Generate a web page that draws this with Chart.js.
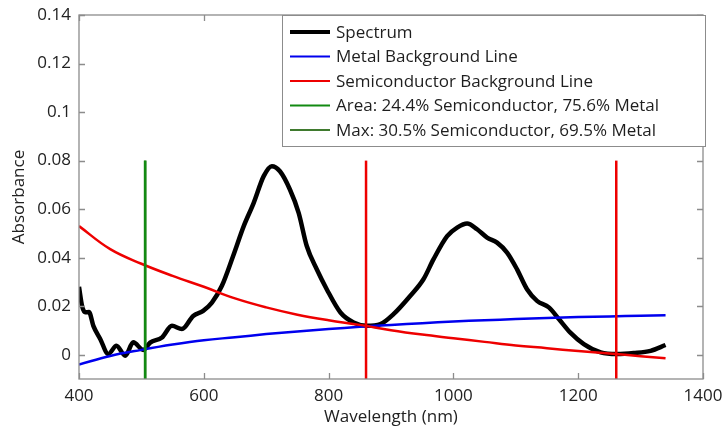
<!DOCTYPE html>
<html>
<head>
<meta charset="utf-8">
<script src="https://cdn.jsdelivr.net/npm/chart.js@4.4.0/dist/chart.umd.min.js"></script>
<style>
  body { margin: 0; background: #fff; }
</style>
</head>
<body>
<canvas id="absChart" width="725" height="427"></canvas>
<script>
// ---- data ----
const specWl = [400, 405, 410, 416, 423, 434, 447, 460, 474, 487, 503, 514, 533, 549, 565, 583, 599, 613, 629, 647,
  664, 680, 696, 709, 722, 738, 752, 765, 781, 797, 819, 840, 861, 883, 904, 931, 952, 968, 990, 1006,
  1022, 1038, 1054, 1070, 1086, 1102, 1118, 1134, 1153, 1169, 1187, 1209, 1236, 1262, 1289, 1316, 1340];
const specAbs = [0.028, 0.020, 0.0175, 0.0176, 0.0119, 0.0065, 0.0003, 0.0037, -0.0004, 0.0051, 0.002, 0.005, 0.0071, 0.0119, 0.0106, 0.016, 0.0181, 0.0215, 0.0284, 0.0407,
  0.053, 0.0626, 0.0736, 0.0777, 0.0756, 0.0681, 0.0585, 0.0448, 0.0352, 0.027, 0.0174, 0.0133, 0.0119, 0.0126, 0.0167, 0.0243, 0.0311, 0.0393, 0.0489, 0.0524,
  0.0541, 0.0517, 0.0483, 0.0462, 0.0421, 0.0352, 0.027, 0.0222, 0.0195, 0.0147, 0.0092, 0.0044, 0.001, 0.0003, 0.0007, 0.0016, 0.004];

const bgWl = [400, 450, 500, 550, 600, 650, 700, 750, 800, 850, 900, 950, 1000, 1050, 1100, 1150, 1200, 1250, 1300, 1340];
const metalAbs = [-0.004, -0.0005, 0.002, 0.0042, 0.006, 0.0072, 0.0085, 0.0096, 0.0106, 0.0115, 0.0123, 0.013, 0.0137, 0.0142, 0.0147, 0.0151, 0.0155, 0.0158, 0.0161, 0.0163];
const semiAbs = [0.053, 0.0435, 0.0375, 0.0325, 0.028, 0.0232, 0.0195, 0.0165, 0.0142, 0.0123, 0.0101, 0.0083, 0.0068, 0.0053, 0.0038, 0.0027, 0.0015, 0.0005, -0.0006, -0.0014];

const areaX = 506;       // green marker
const maxX = 506;        // dark green marker (same spot)
const redMarkX = [860, 1261];
const markerTop = 0.08;

const xTicks = [400, 600, 800, 1000, 1200, 1400];
const yTicks = [0, 0.02, 0.04, 0.06, 0.08, 0.1, 0.12, 0.14];

const labels = ['Spectrum', 'Metal Background Line', 'Semiconductor Background Line',
  'Area: 24.4% Semiconductor, 75.6% Metal', 'Max: 30.5% Semiconductor, 69.5% Metal'];

const FONT = "'Open Sans', 'Noto Sans', sans-serif";

function pts(xs, ys) {
  return xs.map((x, i) => ({x: x, y: ys[i]}));
}
function vline(x) {
  return [{x: x, y: -0.01}, {x: x, y: markerTop}];
}

// box + inward tick marks like matlab
const insideTicks = {
  id: 'insideTicks',
  afterDatasetsDraw(chart) {
    const {ctx, chartArea: a, scales: {x, y}} = chart;
    ctx.save();
    ctx.strokeStyle = '#8c8c8c';
    ctx.lineWidth = 1.3;
    ctx.strokeRect(a.left, a.top, a.right - a.left, a.bottom - a.top);
    ctx.beginPath();
    x.ticks.forEach(t => {
      const px = Math.round(x.getPixelForValue(t.value)) + 0.5;
      ctx.moveTo(px, a.bottom); ctx.lineTo(px, a.bottom - 6);
      ctx.moveTo(px, a.top); ctx.lineTo(px, a.top + 6);
    });
    y.ticks.forEach(t => {
      const py = Math.round(y.getPixelForValue(t.value)) + 0.5;
      ctx.moveTo(a.left, py); ctx.lineTo(a.left + 6, py);
      ctx.moveTo(a.right, py); ctx.lineTo(a.right - 6, py);
    });
    ctx.stroke();
    ctx.restore();
  }
};

// legend box in the top right corner
const boxLegend = {
  id: 'boxLegend',
  afterDraw(chart) {
    const {ctx, chartArea: a} = chart;
    const items = chart.data.datasets.filter(d => d.label);
    const left = 282, top = a.top, right = a.right + 2, bottom = 146;
    ctx.save();
    ctx.fillStyle = '#fff';
    ctx.fillRect(left, top, right - left, bottom - top);
    ctx.strokeStyle = '#8c8c8c';
    ctx.lineWidth = 1;
    ctx.strokeRect(left + 0.5, top + 0.5, right - left, bottom - top);
    ctx.font = '17px ' + FONT;
    ctx.textBaseline = 'middle';
    ctx.textAlign = 'left';
    items.forEach((d, i) => {
      const yy = 32 + i * 24.5;
      ctx.strokeStyle = d.borderColor;
      ctx.lineWidth = d.legendWidth;
      ctx.beginPath();
      ctx.moveTo(290, yy); ctx.lineTo(330, yy);
      ctx.stroke();
      ctx.fillStyle = '#1e1e1e';
      ctx.fillText(d.label, 336, yy + 1);
    });
    ctx.restore();
  }
};

const ctx = document.getElementById('absChart').getContext('2d');
const absChart = new Chart(ctx, {
  type: 'line',
  data: {
    datasets: [
      {label: labels[0], data: pts(specWl, specAbs), borderColor: '#000', borderWidth: 4.5, legendWidth: 4,
        cubicInterpolationMode: 'monotone', order: 5},
      {label: labels[1], data: pts(bgWl, metalAbs), borderColor: '#0000ee', borderWidth: 2.5, legendWidth: 2,
        tension: 0.4, order: 4},
      {label: labels[2], data: pts(bgWl, semiAbs), borderColor: '#ee0000', borderWidth: 2.5, legendWidth: 2,
        tension: 0.4, order: 3},
      {label: labels[3], data: vline(areaX), borderColor: '#128a12', borderWidth: 2.5, legendWidth: 2, order: 1},
      {label: labels[4], data: vline(maxX), borderColor: '#3f7a2e', borderWidth: 2.5, legendWidth: 2, order: 2},
      {label: '', data: vline(redMarkX[0]), borderColor: '#ee0000', borderWidth: 2.5, order: 1},
      {label: '', data: vline(redMarkX[1]), borderColor: '#ee0000', borderWidth: 2.5, order: 1}
    ]
  },
  options: {
    responsive: false,
    animation: false,
    events: [],
    elements: {point: {radius: 0}},
    layout: {padding: {top: 15, right: 22, left: 0, bottom: 0}},
    plugins: {legend: {display: false}, tooltip: {enabled: false}},
    scales: {
      x: {
        type: 'linear',
        min: 400, max: 1400,
        afterBuildTicks: s => { s.ticks = xTicks.map(v => ({value: v})); },
        afterFit: s => { s.height = 48; s.paddingLeft = 0; s.paddingRight = 0; },
        grid: {display: false, drawTicks: false},
        border: {display: false},
        ticks: {color: '#222', padding: 7, font: {family: FONT, size: 17}, maxRotation: 0,
          callback: v => String(v)},
        title: {display: true, text: 'Wavelength (nm)', color: '#222', font: {family: FONT, size: 17}, padding: {top: 0, bottom: 0}}
      },
      y: {
        type: 'linear',
        min: -0.01, max: 0.14,
        afterBuildTicks: s => { s.ticks = yTicks.map(v => ({value: v})); },
        afterFit: s => { s.width = 79; s.paddingTop = 0; s.paddingBottom = 0; },
        grid: {display: false, drawTicks: false},
        border: {display: false},
        ticks: {color: '#222', padding: 8, font: {family: FONT, size: 17},
          callback: v => String(+v.toFixed(2))},
        title: {display: true, text: 'Absorbance', color: '#222', font: {family: FONT, size: 17}, padding: {top: 9, bottom: 0}}
      }
    }
  },
  plugins: [insideTicks, boxLegend]
});
</script>
</body>
</html>
